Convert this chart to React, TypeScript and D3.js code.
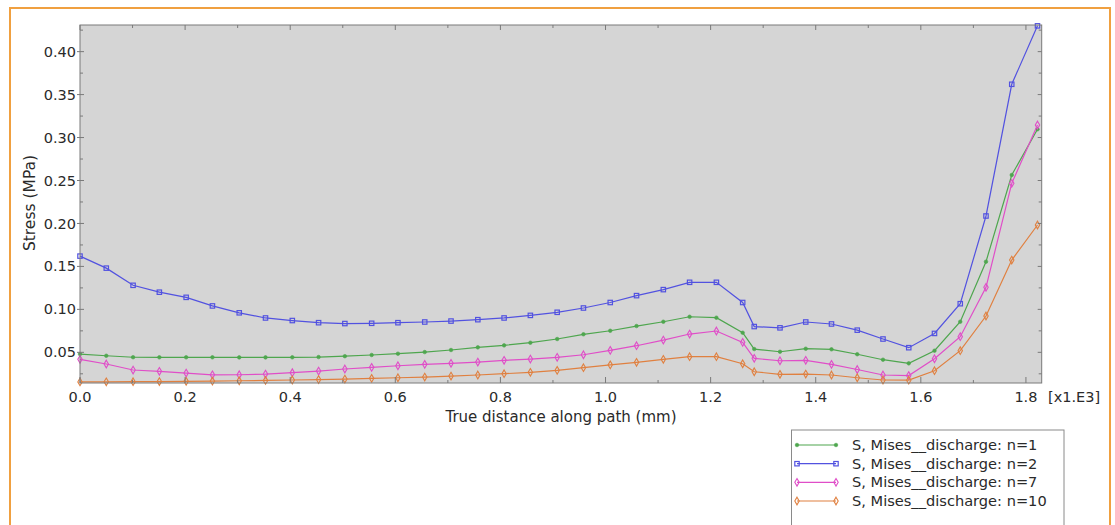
import React from "react";
import * as d3 from "d3";

// distance along path (mm)
const distance = [0, 50, 101, 151, 202, 252, 303, 353, 404, 454, 504, 555, 605, 656, 706, 757, 807, 857, 908, 958, 1009, 1059, 1110, 1160, 1211, 1261, 1283, 1332, 1381, 1430, 1479, 1528, 1577, 1626, 1675, 1724, 1773, 1822];

const n1 = [0.048, 0.046, 0.0443, 0.0442, 0.0442, 0.0442, 0.0441, 0.0441, 0.0442, 0.0445, 0.0455, 0.0469, 0.0484, 0.0503, 0.0527, 0.0558, 0.0581, 0.0612, 0.0655, 0.071, 0.0751, 0.0806, 0.0856, 0.0914, 0.0903, 0.0728, 0.0538, 0.0507, 0.0542, 0.0535, 0.0478, 0.0414, 0.0372, 0.0519, 0.0856, 0.1555, 0.2564, 0.3096];
const n2 = [0.162, 0.148, 0.128, 0.12, 0.114, 0.104, 0.096, 0.09, 0.087, 0.0845, 0.0835, 0.0838, 0.0845, 0.0853, 0.0864, 0.088, 0.09, 0.093, 0.0966, 0.1016, 0.108, 0.116, 0.123, 0.1315, 0.1315, 0.108, 0.08, 0.0785, 0.0853, 0.083, 0.0758, 0.0655, 0.0554, 0.072, 0.1066, 0.2087, 0.362, 0.43];
const n7 = [0.0419, 0.0364, 0.0294, 0.0279, 0.0259, 0.0238, 0.0239, 0.0247, 0.0263, 0.0282, 0.0306, 0.0325, 0.0344, 0.036, 0.0372, 0.0387, 0.0407, 0.0422, 0.0442, 0.0472, 0.0523, 0.0577, 0.0643, 0.0713, 0.0748, 0.0616, 0.043, 0.0402, 0.0407, 0.036, 0.03, 0.0236, 0.023, 0.0425, 0.0682, 0.1257, 0.2467, 0.3146];
const n10 = [0.0156, 0.0157, 0.0158, 0.016, 0.0162, 0.0165, 0.0169, 0.0173, 0.0178, 0.0183, 0.0189, 0.0197, 0.0204, 0.0212, 0.0224, 0.0236, 0.0251, 0.0267, 0.029, 0.0321, 0.0354, 0.0384, 0.0419, 0.0449, 0.0449, 0.0367, 0.0274, 0.0244, 0.0247, 0.0236, 0.0204, 0.0178, 0.0176, 0.0286, 0.0519, 0.0923, 0.1574, 0.1982];

const seriesNames = ["S, Mises__discharge: n=1", "S, Mises__discharge: n=2", "S, Mises__discharge: n=7", "S, Mises__discharge: n=10"];
const seriesColors = ["#4ea64e", "#5252e0", "#e04ec8", "#e08040"];
const seriesMarkers = ["dot", "square", "diamond", "diamond"];
const seriesValues = [n1, n2, n7, n10];

const yTicks = [0.05, 0.1, 0.15, 0.2, 0.25, 0.3, 0.35, 0.4];
const yMinor = [0.025, 0.075, 0.125, 0.175, 0.225, 0.275, 0.325, 0.375, 0.425];
const xTicks = [0, 200, 400, 600, 800, 1000, 1200, 1400, 1600, 1800];
const xMinor = [100, 300, 500, 700, 900, 1100, 1300, 1500, 1700];

const FONT = "DejaVu Sans, Verdana, sans-serif";

function Marker({ type, x, y, color }: { type: string; x: number; y: number; color: string }) {
  if (type === "dot") return <circle cx={x} cy={y} r={1.8} fill={color} stroke={color} strokeWidth={0.6} />;
  if (type === "square") return <rect x={x - 2.2} y={y - 2.2} width={4.4} height={4.4} fill="none" stroke={color} strokeWidth={1.2} />;
  return <path d={`M${x},${y - 3.8}L${x + 2.2},${y}L${x},${y + 3.8}L${x - 2.2},${y}Z`} fill="none" stroke={color} strokeWidth={1.1} />;
}

export default function App() {
  const L = 80, R = 1041.7, T = 25, B = 383;
  const x = d3.scaleLinear().domain([0, 1830]).range([L, R]);
  const y = d3.scaleLinear().domain([0.0143, 0.431]).range([B, T]);
  const line = d3.line<number>().x((_, i) => x(distance[i])).y((v) => y(v));
  const axisCol = "#7a7a7a";
  const textCol = "#2a2a2a";
  const legendRows = [445, 463.7, 482.3, 501];

  return (
    <svg width={1115} height={525} style={{ position: "absolute", left: 0, top: 0, background: "#fff" }}>
      <rect x={0} y={0} width={1115} height={525} fill="#fff" />
      {/* orange frame */}
      <rect x={10} y={8} width={1100} height={540} fill="none" stroke="#f0a040" strokeWidth={2} />
      {/* plot area */}
      <rect x={L} y={T} width={R - L} height={B - T} fill="#d5d5d5" />
      {/* series */}
      {seriesValues.map((vals, s) => (
        <g key={s}>
          <path d={line(vals) || ""} fill="none" stroke={seriesColors[s]} strokeWidth={1.2} />
          {vals.map((v, i) => (
            <Marker key={i} type={seriesMarkers[s]} x={x(distance[i])} y={y(v)} color={seriesColors[s]} />
          ))}
        </g>
      ))}
      {/* frame of plot */}
      <rect x={L} y={T} width={R - L} height={B - T} fill="none" stroke={axisCol} strokeWidth={1} />
      {/* y ticks */}
      {yTicks.map((t) => (
        <g key={t}>
          <line x1={L - 3} x2={L + 4} y1={y(t)} y2={y(t)} stroke={axisCol} />
          <line x1={R - 4} x2={R} y1={y(t)} y2={y(t)} stroke={axisCol} />
          <text x={L - 4} y={y(t)} dy="0.35em" textAnchor="end" fontFamily={FONT} fontSize={14.5} fill={textCol}>
            {d3.format(".2f")(t)}
          </text>
        </g>
      ))}
      {yMinor.filter((t) => y(t) > T && y(t) < B).map((t) => (
        <g key={t}>
          <line x1={L} x2={L + 3} y1={y(t)} y2={y(t)} stroke={axisCol} />
          <line x1={R - 3} x2={R} y1={y(t)} y2={y(t)} stroke={axisCol} />
        </g>
      ))}
      {/* x ticks */}
      {xTicks.map((t) => (
        <g key={t}>
          <line x1={x(t)} x2={x(t)} y1={B} y2={B - 6} stroke={axisCol} />
          <line x1={x(t)} x2={x(t)} y1={T} y2={T + 5} stroke={axisCol} />
          <text x={x(t)} y={397} dy="0.35em" textAnchor="middle" fontFamily={FONT} fontSize={14.5} fill={textCol}>
            {d3.format(".1f")(t / 1000)}
          </text>
        </g>
      ))}
      {xMinor.map((t) => (
        <g key={t}>
          <line x1={x(t)} x2={x(t)} y1={B} y2={B - 3} stroke={axisCol} />
          <line x1={x(t)} x2={x(t)} y1={T} y2={T + 3} stroke={axisCol} />
        </g>
      ))}
      <text x={1048} y={397} dy="0.35em" fontFamily={FONT} fontSize={14.5} fill={textCol}>[x1.E3]</text>
      <text x={561} y={417} dy="0.35em" textAnchor="middle" fontFamily={FONT} fontSize={15} fill={textCol}>
        True distance along path (mm)
      </text>
      <text transform="translate(30,203) rotate(-90)" dy="0.35em" textAnchor="middle" fontFamily={FONT} fontSize={15.5} fill={textCol}>
        Stress (MPa)
      </text>
      {/* legend */}
      <rect x={791.5} y={430} width={272.5} height={120} fill="#fff" stroke="#8a8a8a" strokeWidth={1} />
      {seriesNames.map((name, s) => (
        <g key={name}>
          <line x1={797} x2={836} y1={legendRows[s]} y2={legendRows[s]} stroke={seriesColors[s]} strokeWidth={1.2} />
          <Marker type={seriesMarkers[s]} x={797} y={legendRows[s]} color={seriesColors[s]} />
          <Marker type={seriesMarkers[s]} x={836} y={legendRows[s]} color={seriesColors[s]} />
          <text x={852} y={legendRows[s]} dy="0.35em" fontFamily={FONT} fontSize={14.6} fill={textCol}>
            {name}
          </text>
        </g>
      ))}
    </svg>
  );
}
